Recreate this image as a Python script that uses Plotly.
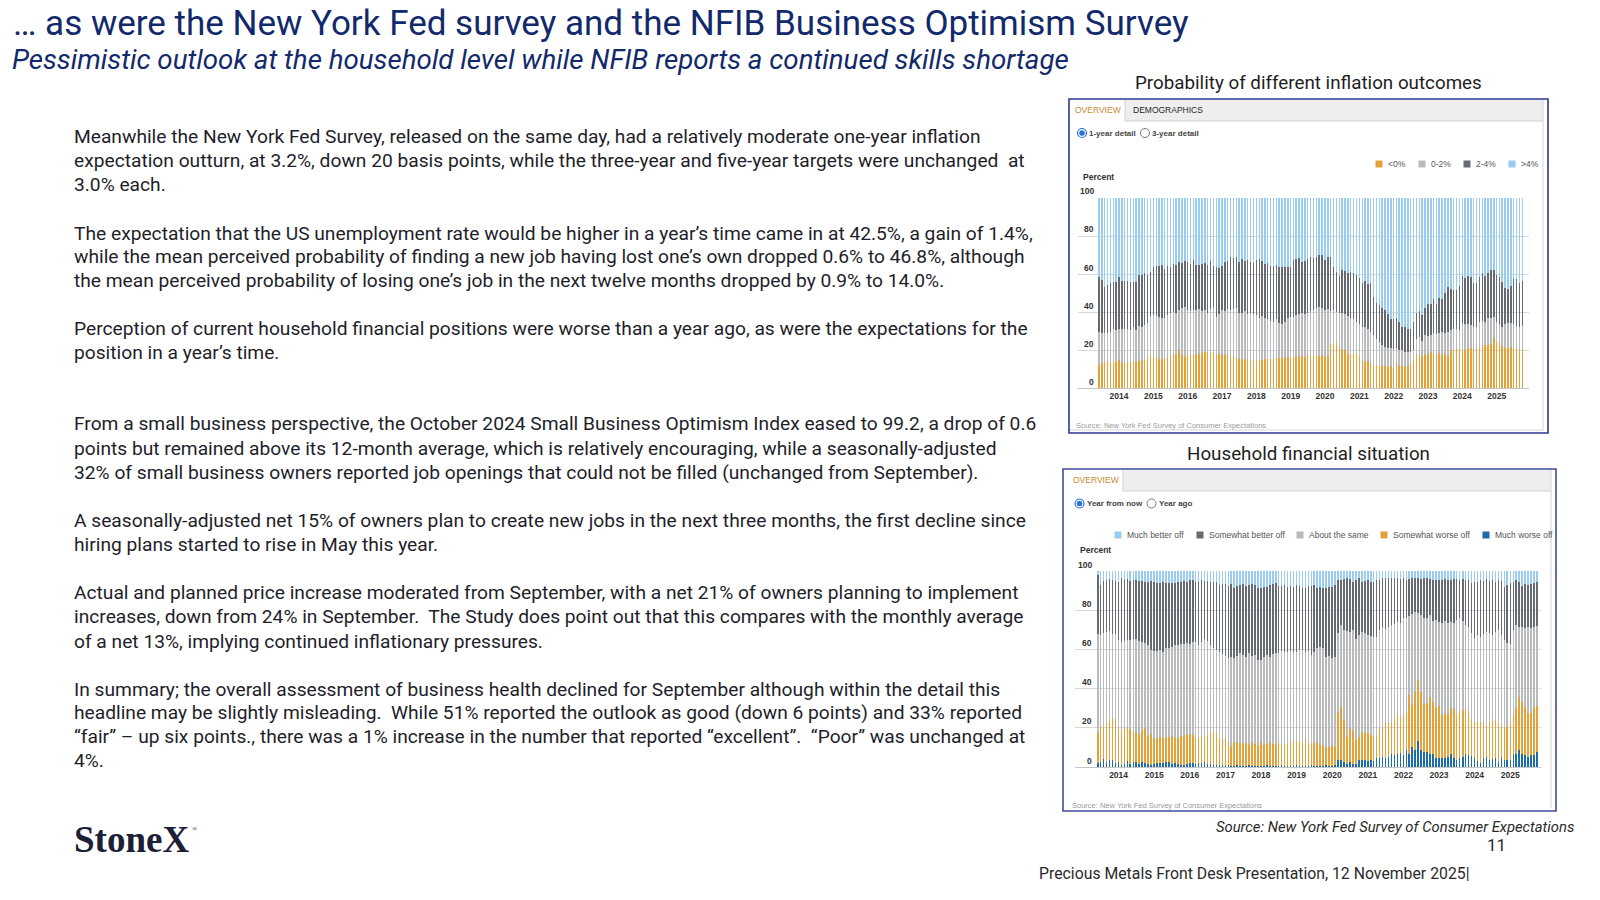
import pandas as pd
import plotly.graph_objects as go

# ---------------- DATA ----------------
months = pd.date_range("2013-06-01", periods=149, freq="MS")
years = ["2014", "2015", "2016", "2017", "2018", "2019", "2020", "2021", "2022", "2023", "2024", "2025"]
year_ticks = ["2014-01-01", "2015-01-01", "2016-01-01", "2017-01-01", "2018-01-01", "2019-01-01",
              "2020-01-01", "2021-01-01", "2022-01-01", "2023-01-01", "2024-01-01", "2025-01-01"]
y_ticks = [0, 20, 40, 60, 80, 100]

# Chart 1: probability of inflation outcomes (cumulative stack levels, %)
infl_top_below0 = [
    12.0, 12.9, 13.7, 14.1, 13.7, 12.9, 13.7, 14.6, 13.2, 13.4,
    13.7, 13.7, 14.3, 13.7, 14.4, 15.0, 14.6, 16.4, 17.6, 16.4,
    16.7, 15.5, 15.5, 15.5, 16.4, 16.7, 17.8, 17.3, 19.9, 17.3,
    16.4, 17.3, 18.1, 18.1, 17.6, 18.1, 18.5, 19.0, 18.7, 18.1,
    18.7, 17.6, 18.1, 18.1, 17.3, 17.6, 16.7, 16.9, 16.0, 15.5,
    15.5, 15.0, 15.5, 15.0, 14.6, 14.3, 14.6, 15.0, 15.3, 15.3,
    15.5, 15.8, 15.8, 15.8, 16.0, 16.4, 16.4, 16.0, 16.4, 16.9,
    16.4, 17.0, 16.4, 17.3, 16.9, 17.6, 17.3, 16.9, 17.6, 16.4,
    16.9, 23.0, 23.4, 24.3, 22.0, 20.2, 19.9, 18.0, 18.0, 18.0,
    18.5, 17.1, 15.5, 13.7, 14.3, 12.9, 12.3, 12.0, 11.4, 11.6,
    11.4, 11.1, 11.6, 10.6, 12.9, 11.4, 11.6, 11.1, 11.4, 13.2,
    14.6, 18.1, 17.6, 16.9, 17.6, 18.1, 19.0, 18.1, 17.6, 18.5,
    17.3, 18.1, 17.1, 19.9, 19.9, 20.4, 20.4, 19.5, 20.2, 21.1,
    21.3, 20.4, 21.1, 21.3, 22.1, 22.8, 22.8, 23.4, 26.1, 23.7,
    24.4, 21.9, 21.3, 21.3, 21.6, 21.1, 20.8, 20.2, 21.1]
infl_top_0_2 = [
    29.6, 29.0, 28.7, 29.0, 29.6, 30.8, 30.5, 30.8, 31.3, 30.8,
    31.3, 30.5, 32.2, 30.5, 32.6, 32.2, 33.1, 34.0, 37.9, 38.4,
    37.9, 37.5, 36.6, 37.0, 38.4, 39.3, 40.1, 39.6, 41.0, 41.9,
    42.8, 41.0, 40.7, 41.0, 41.0, 41.4, 40.7, 41.0, 39.3, 41.4,
    41.9, 37.5, 38.9, 41.0, 40.7, 41.4, 41.0, 41.4, 41.9, 39.6,
    39.3, 40.7, 38.9, 39.3, 38.9, 38.4, 37.0, 37.9, 36.6, 36.1,
    35.2, 34.9, 36.1, 34.3, 33.8, 34.9, 36.6, 37.5, 37.5, 38.4,
    38.9, 39.3, 38.9, 39.6, 40.5, 41.0, 42.0, 42.8, 42.2, 41.0,
    41.4, 40.7, 41.0, 40.0, 39.3, 39.6, 38.9, 37.9, 36.6, 36.1,
    35.0, 33.5, 32.2, 32.0, 30.8, 29.6, 27.8, 26.0, 24.3, 22.5,
    21.6, 21.3, 21.1, 20.4, 21.3, 20.2, 19.9, 19.0, 19.2, 19.0,
    20.0, 26.0, 27.0, 24.8, 27.8, 27.5, 27.8, 28.7, 28.2, 29.2,
    29.6, 29.2, 29.6, 30.3, 30.8, 31.3, 30.3, 34.0, 33.5, 33.5,
    33.1, 32.2, 32.2, 34.9, 35.2, 34.5, 36.6, 37.0, 37.5, 35.0,
    33.5, 32.2, 33.5, 34.0, 34.3, 33.5, 32.6, 32.2, 32.6]
infl_top_2_4 = [
    58.6, 56.9, 53.3, 54.2, 55.1, 55.6, 55.6, 58.6, 56.5, 56.3,
    56.3, 56.0, 56.0, 55.6, 59.3, 59.5, 60.4, 59.5, 61.3, 63.6,
    64.3, 64.3, 64.6, 62.7, 64.4, 63.6, 65.3, 65.0, 66.5, 66.0,
    67.0, 66.5, 65.3, 67.4, 65.0, 64.6, 65.3, 65.7, 64.8, 67.0,
    64.3, 63.6, 63.0, 64.3, 66.2, 67.0, 68.8, 68.3, 68.8, 66.5,
    67.8, 66.7, 67.4, 66.5, 66.0, 67.4, 67.8, 67.0, 65.3, 66.0,
    64.4, 64.4, 64.6, 63.6, 63.9, 63.6, 63.9, 63.7, 67.4, 67.8,
    68.3, 66.5, 66.9, 68.0, 69.2, 68.3, 69.2, 70.0, 69.9, 67.4,
    69.2, 68.8, 63.9, 61.3, 59.0, 62.1, 61.6, 60.4, 61.1, 60.4,
    59.5, 57.7, 55.5, 56.5, 54.8, 55.1, 48.1, 44.9, 43.7, 41.9,
    41.0, 38.9, 36.1, 36.1, 37.1, 34.9, 32.2, 32.2, 31.3, 31.3,
    34.9, 39.6, 40.7, 38.2, 41.9, 44.2, 44.0, 46.7, 44.2, 47.2,
    47.0, 49.8, 53.0, 52.1, 51.6, 51.6, 53.7, 59.2, 58.1, 59.0,
    58.3, 55.1, 55.1, 58.3, 60.7, 59.0, 60.4, 62.1, 62.1, 59.3,
    58.3, 56.0, 52.8, 52.1, 53.9, 57.2, 57.2, 55.1, 56.3]
infl_names = ["<0%", "0-2%", "2-4%", ">4%"]

# Chart 2: household financial situation, year from now (cumulative stack levels, %)
hh_top_much_worse = [
    1.9, 2.4, 4.1, 2.7, 3.6, 3.6, 1.9, 2.7, 1.0, 1.4,
    3.1, 1.4, 2.4, 2.4, 1.4, 2.4, 1.9, 1.4, 1.0, 1.4,
    1.9, 1.9, 1.9, 2.4, 2.4, 1.4, 1.9, 1.4, 1.0, 1.0,
    1.4, 1.9, 1.9, 1.4, 1.9, 1.9, 2.4, 1.4, 1.4, 1.0,
    1.0, 1.0, 1.0, 0.7, 1.0, 0.7, 0.5, 0.9, 0.7, 0.5,
    0.7, 0.9, 0.5, 0.7, 0.5, 0.7, 0.5, 0.9, 0.7, 0.5,
    0.5, 0.7, 0.9, 0.7, 0.5, 0.7, 0.5, 0.9, 0.7, 0.7,
    0.5, 0.7, 0.9, 0.5, 0.7, 0.5, 0.7, 0.9, 0.7, 0.7,
    0.9, 3.6, 3.6, 2.7, 1.4, 2.7, 1.4, 1.4, 3.6, 3.6,
    3.6, 3.1, 3.6, 3.2, 4.8, 4.8, 5.3, 4.4, 5.3, 6.5,
    6.1, 6.5, 7.0, 6.1, 8.7, 6.5, 10.4, 8.7, 13.3, 8.7,
    7.5, 7.5, 6.8, 6.5, 4.4, 4.4, 4.4, 4.4, 5.3, 6.5,
    4.8, 3.6, 4.4, 5.3, 6.5, 6.1, 5.8, 4.4, 3.1, 1.9,
    4.8, 5.3, 3.6, 4.1, 4.8, 2.4, 4.4, 3.6, 3.6, 3.6,
    6.5, 6.5, 8.7, 6.5, 6.1, 5.3, 6.1, 6.1, 7.5]
hh_top_somewhat_worse = [
    17.2, 20.6, 20.6, 22.3, 24.0, 24.8, 24.5, 19.4, 18.9, 19.7,
    20.6, 19.4, 18.4, 18.0, 16.7, 18.4, 19.7, 16.0, 16.7, 14.3,
    15.0, 15.5, 14.6, 15.1, 15.5, 15.6, 15.0, 14.6, 16.0, 16.3,
    16.3, 16.7, 16.3, 14.6, 15.5, 16.0, 15.5, 16.0, 17.2, 17.7,
    17.2, 14.3, 14.6, 14.6, 12.6, 10.4, 12.1, 12.6, 12.1, 11.6,
    12.1, 11.2, 12.6, 11.6, 10.9, 12.9, 11.2, 11.6, 12.9, 11.6,
    11.2, 12.6, 11.6, 11.6, 11.6, 12.9, 13.8, 13.3, 12.6, 12.1,
    14.6, 12.1, 11.2, 12.1, 12.9, 11.2, 11.2, 10.4, 10.4, 10.9,
    10.4, 27.4, 30.8, 24.0, 15.5, 19.7, 18.4, 13.8, 15.5, 18.0,
    17.2, 17.2, 16.3, 16.0, 16.3, 19.7, 20.1, 23.1, 22.3, 22.8,
    24.8, 27.4, 25.7, 26.5, 28.2, 36.7, 31.6, 38.4, 44.4, 38.4,
    32.5, 32.0, 35.9, 33.3, 29.9, 31.3, 26.5, 26.9, 26.9, 29.9,
    29.6, 26.5, 28.6, 28.6, 30.3, 27.9, 24.5, 23.1, 23.1, 22.8,
    23.1, 21.1, 23.1, 24.0, 24.5, 21.8, 20.6, 19.7, 20.6, 22.3,
    26.5, 29.9, 35.9, 33.3, 30.8, 27.4, 27.4, 30.8, 31.3]
hh_top_about_same = [
    67.9, 67.3, 68.2, 69.0, 69.4, 67.9, 67.7, 64.8, 64.0, 64.3,
    64.8, 64.8, 65.3, 65.3, 64.3, 63.9, 63.1, 62.2, 59.7, 59.2,
    59.2, 59.7, 58.5, 60.5, 60.9, 61.4, 62.2, 62.2, 62.8, 62.6,
    63.1, 62.6, 63.9, 63.9, 62.2, 63.9, 65.3, 64.3, 62.2, 60.9,
    59.7, 58.5, 57.5, 56.8, 55.4, 56.3, 55.4, 56.8, 58.0, 57.1,
    56.3, 58.0, 56.8, 57.1, 54.6, 54.6, 56.3, 57.1, 56.3, 57.5,
    58.0, 58.0, 59.2, 58.5, 58.5, 59.2, 58.5, 58.5, 59.7, 59.7,
    58.8, 59.2, 57.1, 58.8, 60.5, 61.4, 60.9, 56.3, 56.8, 55.4,
    56.3, 68.2, 72.4, 69.9, 69.4, 69.0, 69.9, 65.3, 67.3, 69.0,
    68.2, 67.3, 67.0, 66.5, 66.2, 69.9, 70.7, 70.4, 71.6, 72.4,
    72.8, 74.1, 73.3, 75.9, 76.2, 77.2, 77.9, 79.3, 78.4, 77.6,
    75.9, 76.2, 77.6, 74.5, 75.0, 73.8, 73.3, 74.5, 73.3, 74.1,
    73.3, 75.0, 75.9, 74.5, 72.4, 71.6, 68.2, 65.6, 67.3, 66.5,
    67.7, 69.0, 68.2, 67.3, 68.7, 69.9, 67.3, 64.8, 63.1, 62.6,
    69.9, 72.4, 71.6, 71.6, 70.7, 71.6, 71.1, 71.6, 71.9]
hh_top_somewhat_better = [
    98.0, 92.9, 94.9, 95.4, 95.9, 95.4, 95.1, 94.6, 96.3, 95.4,
    95.7, 94.9, 95.4, 95.4, 95.1, 94.9, 94.6, 94.6, 94.9, 94.6,
    93.7, 93.7, 94.2, 93.7, 93.7, 94.0, 93.7, 94.2, 94.2, 94.9,
    94.6, 95.4, 95.4, 94.2, 94.6, 95.4, 94.9, 94.9, 94.6, 94.2,
    94.2, 92.9, 93.2, 93.2, 92.5, 93.2, 91.5, 92.5, 92.9, 93.2,
    92.5, 92.9, 93.2, 92.9, 91.2, 91.5, 92.0, 92.0, 92.9, 93.2,
    93.7, 92.5, 92.5, 92.9, 92.0, 92.5, 92.0, 92.9, 92.5, 91.5,
    91.5, 92.5, 92.5, 92.9, 91.5, 92.0, 91.5, 91.5, 91.7, 92.0,
    92.9, 95.4, 95.4, 95.9, 96.6, 95.9, 94.6, 95.4, 96.3, 94.6,
    94.9, 95.4, 94.6, 94.6, 95.4, 95.4, 96.6, 96.3, 96.3, 96.6,
    96.6, 96.3, 95.9, 96.3, 95.4, 95.9, 96.6, 96.3, 96.6, 95.9,
    96.3, 96.3, 95.9, 95.4, 95.4, 95.4, 95.4, 95.9, 95.4, 95.4,
    95.9, 95.9, 95.4, 95.9, 95.4, 95.4, 93.7, 94.2, 94.6, 95.4,
    94.9, 95.9, 94.9, 95.4, 94.6, 95.4, 94.9, 92.0, 92.9, 93.7,
    94.6, 95.4, 94.6, 92.5, 93.2, 92.9, 93.5, 93.7, 94.2]
hh_names = ["Much better off", "Somewhat better off", "About the same", "Somewhat worse off", "Much worse off"]

# ---------------- STYLE ----------------
W, H = 1600, 900
C_ORANGE = "#E3A13A"
C_LGREY = "#B8BABE"
C_DGREY = "#666A72"
C_LBLUE = "#9ACBF0"
C_DBLUE = "#1C6DAA"
NAVY = "#12296B"
BODY = "#1E1E2A"
SANS = "Roboto"
HC = "Liberation Sans"


def X(p):
    return p / W


def Y(p):
    return 1 - p / H


# stack shares from cumulative levels
def diff(upper, lower):
    return [round(u - l, 2) for u, l in zip(upper, lower)]


full = [100.0] * len(months)
zero = [0.0] * len(months)

infl_series = [
    (infl_names[0], diff(infl_top_below0, zero), C_ORANGE),
    (infl_names[1], diff(infl_top_0_2, infl_top_below0), C_LGREY),
    (infl_names[2], diff(infl_top_2_4, infl_top_0_2), C_DGREY),
    (infl_names[3], diff(full, infl_top_2_4), C_LBLUE),
]
hh_series = [
    (hh_names[4], diff(hh_top_much_worse, zero), C_DBLUE),
    (hh_names[3], diff(hh_top_somewhat_worse, hh_top_much_worse), C_ORANGE),
    (hh_names[2], diff(hh_top_about_same, hh_top_somewhat_worse), C_LGREY),
    (hh_names[1], diff(hh_top_somewhat_better, hh_top_about_same), C_DGREY),
    (hh_names[0], diff(full, hh_top_somewhat_better), C_LBLUE),
]

fig = go.Figure()
for name, vals, col in infl_series:
    fig.add_trace(go.Bar(x=months, y=vals, name=name, marker_color=col, marker_line_width=0,
                         xaxis="x", yaxis="y", showlegend=False, hoverinfo="x+y+name"))
for name, vals, col in hh_series:
    fig.add_trace(go.Bar(x=months, y=vals, name=name, marker_color=col, marker_line_width=0,
                         xaxis="x2", yaxis="y2", showlegend=False, hoverinfo="x+y+name"))

tickfont = dict(family=HC, size=8.5, color="#333333", weight="bold")

anns = []
shapes = []


def txt(x, y, s, size, color, xanchor="left", family=SANS, weight="normal", style="normal"):
    anns.append(dict(x=X(x), y=Y(y), xref="paper", yref="paper", text=s, showarrow=False,
                     xanchor=xanchor, yanchor="middle", borderpad=0,
                     font=dict(family=family, size=size, color=color, weight=weight, style=style)))


def rect(x0, y0, x1, y1, fill=None, line=None, lw=1):
    shapes.append(dict(type="rect", xref="paper", yref="paper", x0=X(x0), x1=X(x1), y0=Y(y1), y1=Y(y0),
                       fillcolor=fill if fill else "rgba(0,0,0,0)",
                       line=dict(color=line if line else "rgba(0,0,0,0)", width=lw if line else 0)))


def hline(x0, x1, y, color, lw=1):
    shapes.append(dict(type="line", xref="paper", yref="paper", x0=X(x0), x1=X(x1), y0=Y(y), y1=Y(y),
                       line=dict(color=color, width=lw)))


def vline(x, y0, y1, color, lw=1):
    shapes.append(dict(type="line", xref="paper", yref="paper", x0=X(x), x1=X(x), y0=Y(y0), y1=Y(y1),
                       line=dict(color=color, width=lw)))


def circle(cx, cy, r, fill, line, lw=1):
    shapes.append(dict(type="circle", xref="paper", yref="paper", x0=X(cx - r), x1=X(cx + r),
                       y0=Y(cy + r), y1=Y(cy - r), fillcolor=fill, line=dict(color=line, width=lw)))


def radio(cx, cy, selected):
    if selected:
        circle(cx, cy, 4.5, "#ffffff", "#2A74D6", 1.2)
        circle(cx, cy, 2.6, "#2A74D6", "#2A74D6", 0.5)
    else:
        circle(cx, cy, 4.5, "#ffffff", "#7A7A7A", 1)


# ---------------- slide titles ----------------
txt(12, 24, "… as were the New York Fed survey and the NFIB Business Optimism Survey", 35, NAVY)
txt(11, 60, "Pessimistic outlook at the household level while NFIB reports a continued skills shortage", 27.7,
    NAVY, style="italic")

# ---------------- body text ----------------
body_lines = [
    (136.5, "Meanwhile the New York Fed Survey, released on the same day, had a relatively moderate one-year inflation"),
    (160.6, "expectation outturn, at 3.2%, down 20 basis points, while the three-year and five-year targets were unchanged  at"),
    (184.1, "3.0% each."),
    (233.1, "The expectation that the US unemployment rate would be higher in a year’s time came in at 42.5%, a gain of 1.4%,"),
    (256.5, "while the mean perceived probability of finding a new job having lost one’s own dropped 0.6% to 46.8%, although"),
    (281.0, "the mean perceived probability of losing one’s job in the next twelve months dropped by 0.9% to 14.0%."),
    (328.9, "Perception of current household financial positions were worse than a year ago, as were the expectations for the"),
    (352.4, "position in a year’s time."),
    (423.8, "From a small business perspective, the October 2024 Small Business Optimism Index eased to 99.2, a drop of 0.6"),
    (448.3, "points but remained above its 12-month average, which is relatively encouraging, while a seasonally-adjusted"),
    (472.8, "32% of small business owners reported job openings that could not be filled (unchanged from September)."),
    (520.7, "A seasonally-adjusted net 15% of owners plan to create new jobs in the next three months, the first decline since"),
    (544.2, "hiring plans started to rise in May this year."),
    (592.1, "Actual and planned price increase moderated from September, with a net 21% of owners planning to implement"),
    (616.6, "increases, down from 24% in September.  The Study does point out that this compares with the monthly average"),
    (641.1, "of a net 13%, implying continued inflationary pressures."),
    (689.0, "In summary; the overall assessment of business health declined for September although within the detail this"),
    (712.5, "headline may be slightly misleading.  While 51% reported the outlook as good (down 6 points) and 33% reported"),
    (736.9, "“fair” – up six points., there was a 1% increase in the number that reported “excellent”.  “Poor” was unchanged at"),
    (760.4, "4%."),
]
for yy, s in body_lines:
    txt(73, yy, s, 19.2, BODY)

# ---------------- chart 1 frame ----------------
txt(1308, 83, "Probability of different inflation outcomes", 18.8, "#1E1E1E", xanchor="center")
rect(1070, 100, 1543, 121, fill="#EEEEEE")
hline(1070, 1543, 121, "#D2D2D2")
rect(1070, 100, 1125, 122, fill="#FFFFFF")
vline(1125, 100, 121, "#D2D2D2")
txt(1074, 110.5, "OVERVIEW", 8.5, "#C8892E", family=HC)
txt(1132, 110.5, "DEMOGRAPHICS", 8.5, "#1E1E1E", family=HC)
vline(1543, 100, 430, "#D6D6D6")
hline(1070, 1543, 430, "#D6D6D6")
rect(1069, 99, 1548, 433, line="#2B3990", lw=1.6)
radio(1082, 133, True)
txt(1088, 133, "1-year detail", 8, "#444444", family=HC, weight="bold")
radio(1145, 133, False)
txt(1151, 133, "3-year detail", 8, "#444444", family=HC, weight="bold")
leg1_x = [1379, 1422, 1467, 1512]
for (name, _, col), lx in zip(infl_series, leg1_x):
    rect(lx - 3.5, 160.5, lx + 3.5, 167.5, fill=col)
    txt(lx + 8, 164, name, 8.5, "#555555", family=HC)
txt(1082, 177.5, "Percent", 8.5, "#333333", family=HC, weight="bold")
txt(1075, 425, "Source: New York Fed Survey of Consumer Expectations", 7.5, "#9A9A9A", family=HC)
for v in y_ticks:
    anns.append(dict(x=X(1094.5), xref="paper", y=v, yref="y", yshift=6.5, text=str(v), showarrow=False,
                     xanchor="right", yanchor="middle", borderpad=0, font=tickfont))

# ---------------- chart 2 frame ----------------
txt(1308, 454, "Household financial situation", 18.8, "#1E1E1E", xanchor="center")
rect(1064, 470, 1551, 491, fill="#EEEEEE")
hline(1064, 1551, 491, "#D2D2D2")
rect(1064, 470, 1123, 492, fill="#FFFFFF")
vline(1123, 470, 491, "#D2D2D2")
txt(1071.5, 480, "OVERVIEW", 8.5, "#C8892E", family=HC)
vline(1551, 470, 808, "#D6D6D6")
rect(1063, 469, 1556, 811, line="#3F4C9C", lw=1.6)
radio(1079.5, 503.5, True)
txt(1086, 503.5, "Year from now", 8, "#444444", family=HC, weight="bold")
radio(1151.5, 503.5, False)
txt(1158, 503.5, "Year ago", 8, "#444444", family=HC, weight="bold")
leg2 = [(hh_names[0], C_LBLUE, 1118), (hh_names[1], C_DGREY, 1200), (hh_names[2], C_LGREY, 1300),
        (hh_names[3], C_ORANGE, 1384), (hh_names[4], C_DBLUE, 1486)]
for name, col, lx in leg2:
    rect(lx - 3.5, 531.5, lx + 3.5, 538.5, fill=col)
    txt(lx + 8, 535.3, name, 8.5, "#555555", family=HC)
txt(1079, 550, "Percent", 8.5, "#333333", family=HC, weight="bold")
txt(1071, 805, "Source: New York Fed Survey of Consumer Expectations", 7.5, "#9A9A9A", family=HC)
for v in y_ticks:
    anns.append(dict(x=X(1092.5), xref="paper", y=v, yref="y2", yshift=6.5, text=str(v), showarrow=False,
                     xanchor="right", yanchor="middle", borderpad=0, font=tickfont))

# ---------------- footer ----------------
txt(73, 839, "StoneX", 37, "#1B2036", family="Liberation Serif", weight="bold")
txt(191, 829, "®", 7, "#1B2036", family="Liberation Serif")
txt(1575, 827, "Source: New York Fed Survey of Consumer Expectations", 14.8, "#2A2A2A", xanchor="right",
    style="italic")
txt(1496.5, 845, "11", 17, "#2A2A2A", xanchor="center")
txt(1038, 873, "Precious Metals Front Desk Presentation, 12 November 2025|", 15.8, "#2A2A2A")

axis_common = dict(type="date", tickvals=year_ticks, ticktext=years, tickfont=tickfont, showgrid=False,
                   showline=True, linecolor="#C6C6C6", linewidth=1, ticks="", fixedrange=True)
yaxis_common = dict(range=[0, 100], tickvals=y_ticks, showticklabels=False, showgrid=True,
                    gridcolor="#D8D8D8", gridwidth=1, zeroline=False, ticks="", fixedrange=True)

fig.update_layout(
    width=W, height=H, autosize=False,
    margin=dict(l=0, r=0, t=0, b=0, pad=0),
    paper_bgcolor="#FFFFFF", plot_bgcolor="#FFFFFF",
    barmode="stack", bargap=0.42,
    showlegend=False,
    xaxis=dict(domain=[X(1078), X(1529)], range=["2012-10-21", "2025-12-11"], anchor="y", **axis_common),
    yaxis=dict(domain=[Y(388), Y(198)], anchor="x", **yaxis_common),
    xaxis2=dict(domain=[X(1075), X(1541)], range=["2012-10-11", "2025-11-12"], anchor="y2", **axis_common),
    yaxis2=dict(domain=[Y(767), Y(571)], anchor="x2", **yaxis_common),
    annotations=anns,
    shapes=shapes,
)

fig.write_html("out.html", config={"displayModeBar": False, "staticPlot": True},
               post_script="document.body.style.margin='0';document.body.style.overflow='hidden';")
